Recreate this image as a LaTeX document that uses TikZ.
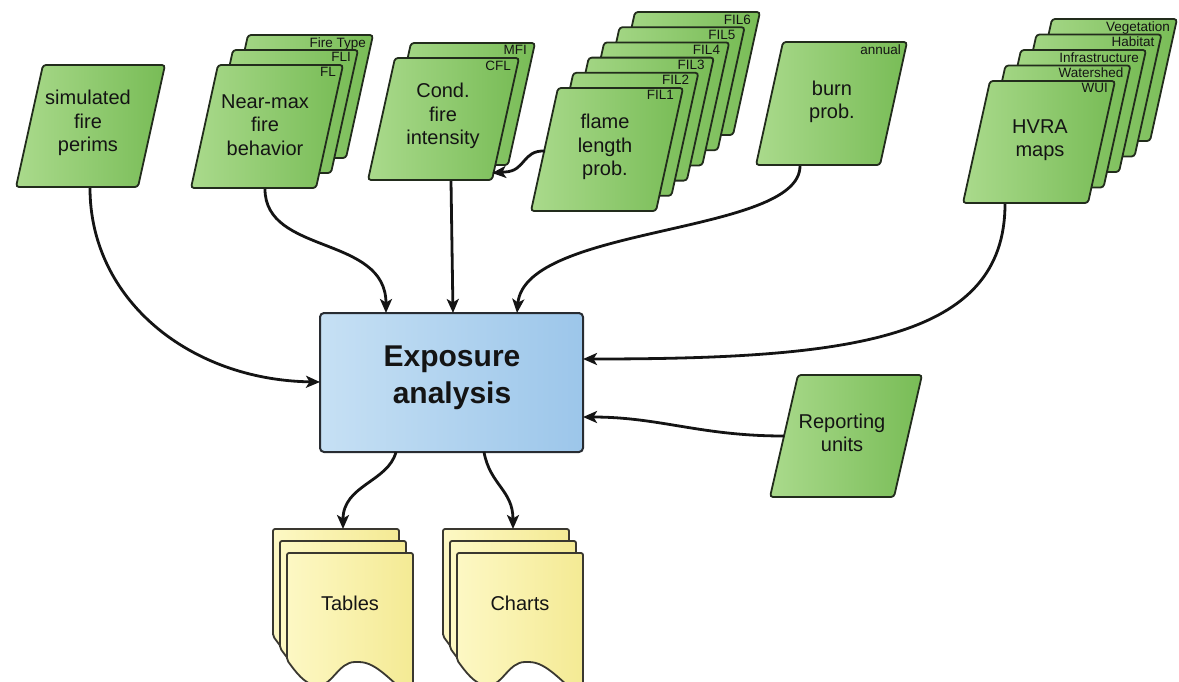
\documentclass[tikz,border=0pt]{standalone}
\usepackage{fontspec}
\setmainfont{Liberation Sans}
\usetikzlibrary{arrows.meta,calc}
\definecolor{gL}{RGB}{170,218,140}
\definecolor{gD}{RGB}{120,188,86}
\definecolor{gB}{RGB}{34,44,28}
\definecolor{bL}{RGB}{198,224,244}
\definecolor{bD}{RGB}{156,198,234}
\definecolor{bB}{RGB}{40,44,50}
\definecolor{yL}{RGB}{253,248,196}
\definecolor{yD}{RGB}{244,234,148}
\definecolor{dB}{RGB}{58,56,48}
\definecolor{ink}{RGB}{20,20,20}
\newcommand\pgram[5]{\draw[gshape] (#1,#2) -- ++(#3,0) -- ++(-#5,#4) -- ++(-#3,0) -- cycle;}
\newcommand\docshape[2]{\draw[dshape] (#1,#2+107) -- (#1,#2) -- (#1+126,#2) -- (#1+126,#2+145)
  .. controls (#1+105,#2+130) and (#1+90,#2+109) .. (#1+70,#2+109)
  .. controls (#1+52,#2+109) and (#1+45,#2+132) .. (#1+31,#2+132)
  .. controls (#1+18,#2+132) and (#1+8,#2+118) .. (#1,#2+107) -- cycle;}
\begin{document}
\begin{tikzpicture}[x=1pt,y=-1pt,
  gshape/.style={draw=gB,line width=1.8pt,rounded corners=3pt,left color=gL,right color=gD},
  dshape/.style={draw=dB,line width=1.8pt,rounded corners=2pt,left color=yL,right color=yD},
  txt/.style={align=center,text=ink,font=\fontsize{20}{23.5}\selectfont,inner sep=0},
  lab/.style={anchor=north east,inner sep=0,text=ink,font=\fontsize{13.5}{14}\selectfont},
  conn/.style={draw=ink,line width=2.8pt,-{Stealth[length=14pt,width=12pt,inset=3.5pt]}}
]
\useasboundingbox (0,0) rectangle (1179,681);
\clip (0,0) rectangle (1179,681);

% simulated fire perims
\pgram{43}{65}{122}{122}{27}
\node[txt] (perims) at (88,123) {simulated\\fire\\perims};

% near-max fire behavior
\foreach \k/\lab in {2/Fire Type,1/FLI,0/FL}{
  \pgram{218+15*\k}{65-15*\k}{125}{123}{27}
  \node[lab] at (218+15*\k+125-7,65-15*\k+2.5) {\lab};
}
\node[txt] (nearmax) at (265,125) {Near-max\\fire\\behavior};

% cond fire intensity
\foreach \k/\lab in {1/MFI,0/CFL}{
  \pgram{395+16*\k}{58-15*\k}{124}{122}{27}
  \node[lab] at (395+16*\k+124-8,58-15*\k+2.5) {\lab};
}
\node[txt] (cond) at (443,116) {Cond.\\fire\\intensity};

% flame length prob
\foreach \k/\lab in {5/FIL6,4/FIL5,3/FIL4,2/FIL3,1/FIL2,0/FIL1}{
  \pgram{558+15.4*\k}{88-15.2*\k}{125}{123}{27}
  \node[lab] at (558+15.4*\k+125-9,88-15.2*\k+2.5) {\lab};
}
\node[txt] (flame) at (605,147) {flame\\length\\prob.};

% burn prob
\pgram{783}{42}{124}{123}{27}
\node[lab] at (783+124-6,42+2.5) {annual};
\node[txt] (burn) at (832,102) {burn\\prob.};

% HVRA maps
\foreach \k/\lab in {4/Vegetation,3/Habitat,2/Infrastructure,1/Watershed,0/WUI}{
  \pgram{990+15.5*\k}{81-15.5*\k}{125}{122}{27}
  \node[lab] at (990+15.5*\k+125-7,81-15.5*\k+2.5) {\lab};
}
\node[txt] (hvra) at (1040,140) {HVRA\\maps};

% reporting units
\pgram{798}{375}{124}{122}{28}
\node[txt] (rep) at (842,433) {Reporting\\units};

% exposure analysis box
\node[draw=bB,line width=2pt,rounded corners=4pt,left color=bL,right color=bD,
  minimum width=263pt,minimum height=139pt,inner sep=0] (box) at (451.5,382.5) {};
\node[align=center,text=ink,font=\bfseries\fontsize{30}{37}\selectfont,inner sep=0] (boxtxt) at (452,378) {Exposure\\analysis};

% documents
\foreach \k in {2,1,0}{ \docshape{287-7*\k}{553-12*\k} }
\node[txt] (tables) at (350,603) {Tables};
\foreach \k in {2,1,0}{ \docshape{457-7*\k}{553-12*\k} }
\node[txt] (charts) at (520,603) {Charts};

% connector end points
\coordinate (perims-o) at (90,188);
\coordinate (nearmax-o) at (265,189);
\coordinate (cond-o) at (451,181);
\coordinate (flame-o) at (545,151);
\coordinate (cond-i) at (492,173);
\coordinate (burn-o) at (800,166);
\coordinate (hvra-o) at (1005,204);
\coordinate (rep-o) at (784,436);
\coordinate (box-w) at (320,382);
\coordinate (box-n1) at (386,313);
\coordinate (box-n2) at (453,313);
\coordinate (box-n3) at (517,313);
\coordinate (box-e1) at (583,359);
\coordinate (box-e2) at (583,417);
\coordinate (box-s1) at (396,452);
\coordinate (box-s2) at (484,452);
\coordinate (tables-i) at (343,529);
\coordinate (charts-i) at (513,529);

% connectors
\draw[conn] (perims-o) .. controls (90,300) and (190,380) .. (box-w);
\draw[conn] (nearmax-o) .. controls (265,255) and (386,235) .. (box-n1);
\draw[conn] (cond-o) -- (box-n2);
\draw[conn] (flame-o) .. controls (522,150) and (526,171) .. (505,172) -- (cond-i);
\draw[conn] (burn-o) .. controls (800,235) and (525,225) .. (box-n3);
\draw[conn] (hvra-o) .. controls (1005,340) and (850,359) .. (box-e1);
\draw[conn] (rep-o) .. controls (700,436) and (660,417) .. (box-e2);
\draw[conn] (box-s1) .. controls (388,482) and (343,485) .. (tables-i);
\draw[conn] (box-s2) .. controls (490,485) and (513,490) .. (charts-i);
\end{tikzpicture}
\end{document}
